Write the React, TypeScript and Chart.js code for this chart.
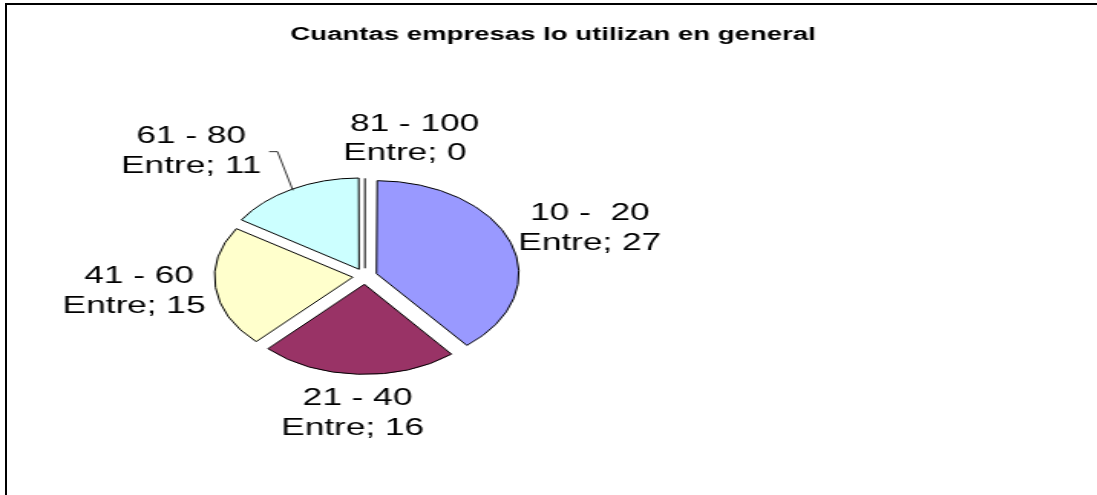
import React, { useEffect, useRef } from 'react';
import { Chart, registerables, layouts } from 'chart.js';

Chart.register(...registerables);

// ---- data ----
const title = 'Cuantas empresas lo utilizan en general';
const seriesName = 'Entre';
const categories = ['10 -  20', ' 21 - 40', ' 41 - 60', '61 - 80', '  81 - 100'];
const values = [27, 16, 15, 11, 0];
const sliceColors = ['#9999FF', '#993366', '#FFFFCC', '#CCFFFF', '#660066'];

// ---- layout / style ----
const CANVAS_W = 722;
const CANVAS_H = 495;
const STRETCH = 1.532; // reference image is stretched horizontally
const RIGHT_RESERVE = 245.6; // space kept free on the right of the plot area
const PIE_RADIUS = 90;
const EXPLODE = 32; // chart.js arc offset (drawn as offset / 4)
const LABEL_FONT = '23px "Liberation Sans", Arial, sans-serif';
const LABEL_LINE_H = 29.4;
const LABEL_GAP = 9;
const LABEL_NUDGE: [number, number][] = [[2, -2], [-1, 1], [2, 0], [-40, -5], [26, -1]];
const LEADER_MIN_MOVE = 35;

const rightReservePlugin = {
  id: 'rightReserve',
  beforeInit(chart: any) {
    const box: any = {
      position: 'right',
      weight: 0,
      fullSize: false,
      options: {},
      left: 0, top: 0, right: 0, bottom: 0, width: 0, height: 0,
      isHorizontal() { return false; },
      update(_w: number, h: number) { this.width = RIGHT_RESERVE; this.height = h; },
      draw() {},
    };
    layouts.addBox(chart, box);
  },
};

const pieLabelsPlugin = {
  id: 'pieLabels',
  afterDatasetsDraw(chart: any) {
    const ctx: CanvasRenderingContext2D = chart.ctx;
    const meta = chart.getDatasetMeta(0);
    const data = chart.data.datasets[0].data as number[];
    ctx.save();
    meta.data.forEach((el: any, i: number) => {
      const p = el.getProps(['x', 'y', 'startAngle', 'endAngle', 'outerRadius'], true);
      const off = (el.options.offset || 0) / 4;
      const mid = (p.startAngle + p.endAngle) / 2;
      const cos = Math.cos(mid);
      const sin = Math.sin(mid);
      // zero-size slice: drawn as a single radial line
      if (p.endAngle - p.startAngle === 0) {
        ctx.strokeStyle = '#000';
        ctx.lineWidth = 1;
        ctx.beginPath();
        ctx.moveTo(p.x + cos * off, p.y + sin * off);
        ctx.lineTo(p.x + cos * (off + p.outerRadius), p.y + sin * (off + p.outerRadius));
        ctx.stroke();
      }
      const lines = [chart.data.labels[i] as string, `${seriesName}; ${data[i]}`];
      ctx.font = LABEL_FONT;
      const w = Math.max(...lines.map((l) => ctx.measureText(l).width));
      const h = LABEL_LINE_H * lines.length;
      const d = p.outerRadius + off + LABEL_GAP;
      const [nx, ny] = LABEL_NUDGE[i] || [0, 0];
      const cx = p.x + cos * d + cos * w / 2 + nx;
      const cy = p.y + sin * d + sin * h / 2 + ny;
      ctx.fillStyle = '#000';
      ctx.textAlign = 'center';
      ctx.textBaseline = 'middle';
      lines.forEach((l, k) => {
        ctx.fillText(l, cx, cy + (k - (lines.length - 1) / 2) * LABEL_LINE_H);
      });
      if (Math.hypot(nx, ny) > LEADER_MIN_MOVE) {
        const ex = p.x + cos * (off + p.outerRadius);
        const ey = p.y + sin * (off + p.outerRadius);
        const side = ex > cx ? 1 : -1;
        const sx = cx + side * (w / 2 + 5);
        ctx.strokeStyle = '#000';
        ctx.lineWidth = 0.8;
        ctx.beginPath();
        ctx.moveTo(sx, cy);
        ctx.lineTo(sx + side * 5.5, cy);
        ctx.lineTo(ex, ey);
        ctx.stroke();
      }
    });
    ctx.restore();
  },
};

export default function App() {
  const ref = useRef<HTMLCanvasElement>(null);
  useEffect(() => {
    const chart = new Chart(ref.current as HTMLCanvasElement, {
      type: 'pie',
      data: {
        labels: categories,
        datasets: [
          {
            label: seriesName,
            data: values,
            backgroundColor: sliceColors,
            borderColor: '#000',
            borderWidth: 1,
            offset: EXPLODE,
            hoverOffset: 0,
            radius: PIE_RADIUS,
          } as any,
        ],
      },
      options: {
        responsive: false,
        animation: false,
        devicePixelRatio: 1,
        layout: { padding: 0 },
        events: [],
        plugins: {
          legend: { display: false },
          tooltip: { enabled: false },
          title: {
            display: true,
            text: title,
            color: '#000',
            font: { family: '"Liberation Sans", Arial, sans-serif', size: 18, weight: 'bold' },
            padding: { top: 24, bottom: 12 },
          },
        },
      } as any,
      plugins: [rightReservePlugin, pieLabelsPlugin] as any,
    });
    return () => chart.destroy();
  }, []);

  return (
    <div style={{ position: 'fixed', left: 0, top: 0, width: '100vw', height: '100vh', overflow: 'hidden', background: '#fff' }}>
      <div
        style={{
          position: 'absolute',
          left: 0,
          top: 0,
          width: CANVAS_W,
          height: CANVAS_H,
          transform: `scaleX(${STRETCH})`,
          transformOrigin: '0 0',
        }}
      >
        <canvas ref={ref} width={CANVAS_W} height={CANVAS_H} style={{ width: CANVAS_W, height: CANVAS_H }} />
      </div>
      <div
        style={{
          position: 'absolute',
          left: 5,
          top: 3,
          right: -10,
          bottom: -10,
          borderLeft: '2px solid #000',
          borderTop: '2px solid #000',
          pointerEvents: 'none',
        }}
      />
    </div>
  );
}
